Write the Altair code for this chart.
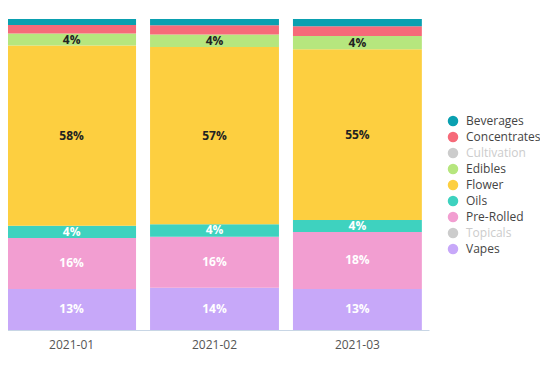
import altair as alt
import pandas as pd

months = ["2021-01", "2021-02", "2021-03"]
categories = ["Beverages", "Concentrates", "Cultivation", "Edibles", "Flower",
              "Oils", "Pre-Rolled", "Topicals", "Vapes"]
colors = ["#0aa0b0", "#f66a79", "#cccccc", "#b6e67e", "#fdcf40",
          "#3ed2bf", "#f29ed1", "#cccccc", "#c7a8f9"]
# stacking order from the bottom up
stack_order = ["Vapes", "Pre-Rolled", "Oils", "Flower", "Edibles", "Concentrates", "Beverages"]
vapes = [13.2, 13.6, 13.2]
pre_rolled = [16.4, 16.4, 18.3]
oils = [3.9, 4.0, 3.9]
flower = [58.0, 57.0, 54.9]
edibles = [3.8, 4.0, 4.2]
concentrates = [2.8, 3.0, 3.2]
beverages = [1.9, 2.0, 2.3]
dark_text = ["Flower", "Edibles"]

series = {"Vapes": vapes, "Pre-Rolled": pre_rolled, "Oils": oils, "Flower": flower,
          "Edibles": edibles, "Concentrates": concentrates, "Beverages": beverages}
rows = []
for cat in stack_order:
    for m, v in zip(months, series[cat]):
        rows.append({"month": m, "category": cat, "value": v,
                     "ord": stack_order.index(cat),
                     "tc": "#222222" if cat in dark_text else "#ffffff"})
df = pd.DataFrame(rows)

base = alt.Chart(df).transform_stack(
    stack="value", as_=["y0", "y1"], groupby=["month"],
    sort=[alt.SortField("ord", order="ascending")], offset="normalize"
).transform_calculate(mid="(datum.y0 + datum.y1) / 2")

x = alt.X("month:N", title=None,
          scale=alt.Scale(paddingInner=0.098, paddingOuter=0.05),
          axis=alt.Axis(labelAngle=0, ticks=False, domainColor="#c8d6e5",
                        labelColor="#555555", labelFont="Open Sans", labelFontSize=12,
                        labelPadding=9))

bars = base.mark_bar().encode(
    x=x,
    y=alt.Y("y0:Q", scale=alt.Scale(domain=[0, 1], nice=False, zero=True), axis=None),
    y2="y1:Q",
    color=alt.Color("category:N", scale=alt.Scale(domain=categories, range=colors),
                    legend=alt.Legend(
                        title=None, orient="none", legendX=447, legendY=96,
                        symbolType="circle", symbolSize=110, symbolStrokeWidth=0,
                        labelFont="Open Sans", labelFontSize=12, labelOffset=7,
                        rowPadding=4, padding=0, labelLimit=200,
                        labelColor={"expr": "datum.value === 'Cultivation' || datum.value === 'Topicals' ? '#cccccc' : '#444444'"})),
)

labels = base.transform_filter("datum.value >= 3.5").transform_calculate(
    lbl="format(datum.value / 100, '.0%')"
).mark_text(font="Open Sans", fontSize=12, fontWeight="bold").encode(
    x=x,
    y=alt.Y("mid:Q", scale=alt.Scale(domain=[0, 1], nice=False, zero=True), axis=None),
    text="lbl:N",
    color=alt.Color("tc:N", scale=None),
)

chart = alt.layer(bars, labels).properties(
    width=429, height=311,
    autosize=alt.AutoSizeParams(type="none"),
    padding={"left": -8, "top": 11, "right": 111, "bottom": 26},
).configure_view(stroke=None)

chart.save("out.html", embed_options={"renderer": "svg", "actions": False})
